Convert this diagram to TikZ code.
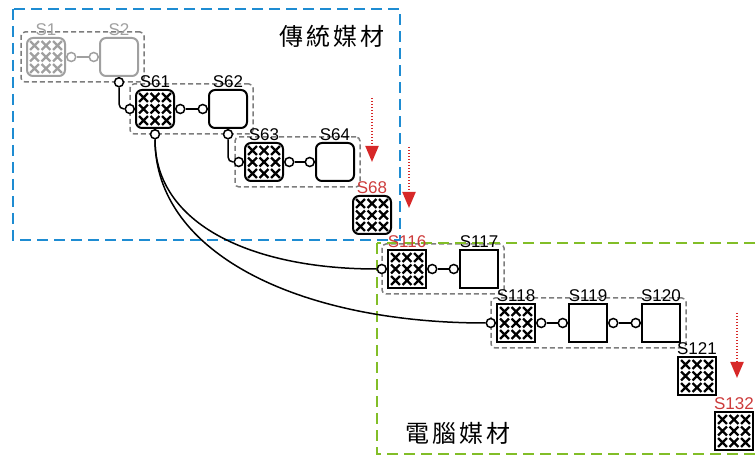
\documentclass[tikz,border=0pt]{standalone}
\usepackage{fontspec}
\setmainfont{Liberation Sans}
\newfontfamily\cjkfont{Noto Sans CJK TC}
\usetikzlibrary{positioning, arrows.meta, fit, backgrounds, calc}

\definecolor{tradblue}{RGB}{30,140,210}
\definecolor{compgreen}{RGB}{130,190,40}
\definecolor{arrred}{RGB}{215,40,40}
\definecolor{lblred}{RGB}{205,60,60}
\definecolor{oldgray}{RGB}{160,160,160}
\definecolor{grpgray}{RGB}{125,125,125}

\tikzset{
  mbox/.style={draw, line width=2pt, minimum size=38pt, inner sep=0pt},
  trad/.style={rounded corners=6pt},
  xbox/.style={mbox, path picture={
      \foreach \dx in {-11.5,0,11.5} \foreach \dy in {-11.5,0,11.5}
        \draw[line width=2.4pt, rounded corners=0pt]
          ([shift={(\dx*1pt-4.4pt,\dy*1pt-4.4pt)}]path picture bounding box.center) -- ++(8.8pt,8.8pt)
          ([shift={(\dx*1pt-4.4pt,\dy*1pt+4.4pt)}]path picture bounding box.center) -- ++(8.8pt,-8.8pt);}},
  port/.style={circle, draw, fill=white, line width=1.5pt, minimum size=9pt, inner sep=0pt},
  grp/.style={draw=grpgray, line width=1.5pt, dash pattern=on 5pt off 3pt, rounded corners=4pt, inner sep=5pt},
  lbl/.style={font=\fontsize{17}{17}\selectfont, inner sep=1.5pt},
  wire/.style={line width=1.5pt},
  redarr/.style={draw=arrred, line width=2pt, dash pattern=on 1.5pt off 1.5pt, -{Triangle[length=16pt,width=13pt]}},
  media/.style={font=\cjkfont\fontsize{24}{24}\selectfont, inner sep=0pt},
}

\begin{document}
\begin{tikzpicture}[x=1pt, y=-1pt]
  \useasboundingbox (0,0) rectangle (756,457);

  % media frames
  \draw[tradblue, line width=2pt, dash pattern=on 11pt off 6pt] (13,9) rectangle (400,240);
  \draw[compgreen, line width=2pt, dash pattern=on 11pt off 6pt] (377,243) rectangle (780,454);
  \node[media] (trad) at (332,36) {傳\hspace{3pt}統\hspace{3pt}媒\hspace{3pt}材};
  \node[media] (comp) at (458,433) {電\hspace{3pt}腦\hspace{3pt}媒\hspace{3pt}材};

  % traditional media
  \node[xbox, trad, color=oldgray, label={[lbl, oldgray]above:S1}] (s1) at (46,57) {};
  \node[mbox, trad, color=oldgray, label={[lbl, oldgray]above:S2}] (s2) at (119,57) {};
  \node[xbox, trad, label={[lbl]above:S61}] (s61) at (155,109) {};
  \node[mbox, trad, label={[lbl]above:S62}] (s62) at (228,109) {};
  \node[xbox, trad, label={[lbl]above:S63}] (s63) at (264,162) {};
  \node[mbox, trad, label={[lbl]above:S64}] (s64) at (335,162) {};
  \node[xbox, trad, label={[lbl, lblred]above:S68}] (s68) at (372,215) {};

  % computer media
  \node[xbox, label={[lbl, lblred]above:S116}] (s116) at (407,269) {};
  \node[mbox, label={[lbl]above:S117}] (s117) at (479,269) {};
  \node[xbox, label={[lbl]above:S118}] (s118) at (516,323) {};
  \node[mbox, label={[lbl]above:S119}] (s119) at (588,323) {};
  \node[mbox, label={[lbl]above:S120}] (s120) at (661,323) {};
  \node[xbox, label={[lbl]above:S121}] (s121) at (697,376) {};
  \node[xbox, label={[lbl, lblred]above:S132}] (s132) at (734,431) {};

  % groups
  \begin{scope}[on background layer]
    \node[grp, fit=(s1)(s2)] (g1) {};
    \node[grp, fit=(s61)(s62)] (g61) {};
    \node[grp, fit=(s63)(s64), xshift=-2pt, inner xsep=7pt] (g63) {};
    \node[grp, fit=(s116)(s117)] (g116) {};
    \node[grp, fit=(s118)(s120)] (g118) {};
  \end{scope}

  % ports
  \node[port, draw=oldgray, anchor=west] (s1e) at (s1.east) {};
  \node[port, draw=oldgray, anchor=east] (s2w) at (s2.west) {};
  \node[port, anchor=north] (s2s) at (s2.south) {};
  \node[port, anchor=east] (s61w) at (s61.west) {};
  \node[port, anchor=west] (s61e) at (s61.east) {};
  \node[port, anchor=north] (s61s) at (s61.south) {};
  \node[port, anchor=east] (s62w) at (s62.west) {};
  \node[port, anchor=north] (s62s) at (s62.south) {};
  \node[port, anchor=east] (s63w) at (s63.west) {};
  \node[port, anchor=west] (s63e) at (s63.east) {};
  \node[port, anchor=east] (s64w) at (s64.west) {};
  \node[port, anchor=east] (s116w) at (s116.west) {};
  \node[port, anchor=west] (s116e) at (s116.east) {};
  \node[port, anchor=east] (s117w) at (s117.west) {};
  \node[port, anchor=east] (s118w) at (s118.west) {};
  \node[port, anchor=west] (s118e) at (s118.east) {};
  \node[port, anchor=east] (s119w) at (s119.west) {};
  \node[port, anchor=west] (s119e) at (s119.east) {};
  \node[port, anchor=east] (s120w) at (s120.west) {};

  % wires
  \draw[wire, oldgray] (s1e) -- (s2w);
  \draw[wire, rounded corners=5pt] (s2s) |- (s61w);
  \draw[wire] (s61e) -- (s62w);
  \draw[wire, rounded corners=5pt] (s62s) |- (s63w);
  \draw[wire] (s63e) -- (s64w);
  \draw[wire] (s116e) -- (s117w);
  \draw[wire] (s118e) -- (s119w);
  \draw[wire] (s119e) -- (s120w);
  \draw[wire] (s61s) .. controls +(0,90) and +(-130,0) .. (s116w);
  \draw[wire] (s61s) .. controls +(0,120) and +(-190,0) .. (s118w);

  % jumps
  \coordinate (a68top) at (372,98);
  \coordinate (a68tip) at (372,162);
  \coordinate (a116top) at (409,147);
  \coordinate (a116tip) at (409,208);
  \coordinate (a132top) at (737,313);
  \coordinate (a132tip) at (737,378);
  \draw[redarr] (a68top) -- (a68tip);
  \draw[redarr] (a116top) -- (a116tip);
  \draw[redarr] (a132top) -- (a132tip);
\end{tikzpicture}
\end{document}
